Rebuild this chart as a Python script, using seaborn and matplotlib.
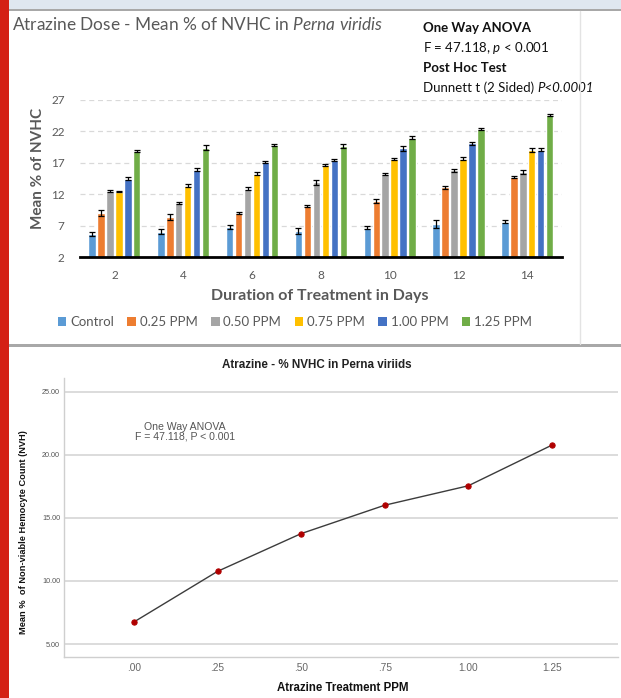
import numpy as np
import pandas as pd
import matplotlib
matplotlib.use("Agg")
import matplotlib.pyplot as plt
from matplotlib.patches import Rectangle, Patch
from matplotlib.lines import Line2D
from matplotlib.ticker import FuncFormatter
import seaborn as sns

# ---- Panel A: mean % NVHC per treatment day and atrazine dose ----
days = ["2", "4", "6", "8", "10", "12", "14"]
doses = ["Control", "0.25 PPM", "0.50 PPM", "0.75 PPM", "1.00 PPM", "1.25 PPM"]

control  = [5.7, 6.1, 6.8, 6.2, 6.7, 7.3, 7.65]
ppm_025  = [9.0, 8.4, 9.1, 10.2, 10.9, 13.1, 14.8]
ppm_050  = [12.6, 10.6, 12.9, 13.9, 15.2, 15.8, 15.6]
ppm_075  = [12.45, 13.4, 15.3, 16.7, 17.6, 17.7, 19.0]
ppm_100  = [14.5, 15.9, 17.1, 17.45, 19.3, 20.1, 19.1]
ppm_125  = [18.9, 19.4, 19.9, 19.7, 21.0, 22.4, 24.6]

sem_control = [0.30, 0.35, 0.30, 0.50, 0.25, 0.60, 0.20]
sem_025     = [0.50, 0.45, 0.15, 0.15, 0.30, 0.30, 0.20]
sem_050     = [0.15, 0.20, 0.20, 0.35, 0.15, 0.20, 0.30]
sem_075     = [0.15, 0.30, 0.25, 0.15, 0.20, 0.30, 0.30]
sem_100     = [0.20, 0.25, 0.15, 0.15, 0.40, 0.20, 0.20]
sem_125     = [0.15, 0.40, 0.15, 0.25, 0.20, 0.15, 0.20]

dose_colors = ["#5B9BD5", "#ED7D31", "#A5A5A5", "#FFC000", "#4472C4", "#70AD47"]

# ---- Panel B: overall mean % NVHC per dose ----
ppm_levels = [0.00, 0.25, 0.50, 0.75, 1.00, 1.25]
mean_nvhc = [6.75, 10.76, 13.75, 16.00, 17.54, 20.76]

series = [control, ppm_025, ppm_050, ppm_075, ppm_100, ppm_125]
sems = [sem_control, sem_025, sem_050, sem_075, sem_100, sem_125]
bars = pd.DataFrame(
    [(d, dose, v) for dose, vals in zip(doses, series) for d, v in zip(days, vals)],
    columns=["day", "dose", "value"],
)

sns.set_style("white")
plt.rcParams["font.family"] = ["Lato", "DejaVu Sans"]
plt.rcParams["mathtext.fontset"] = "custom"
plt.rcParams["mathtext.rm"] = "Lato"
plt.rcParams["mathtext.it"] = "Lato:italic"
plt.rcParams["mathtext.bf"] = "Lato:bold"

W, H = 621, 698
fig = plt.figure(figsize=(W / 100, H / 100), dpi=100, facecolor="white")


def fx(px):
    return px / W


def fy(py):
    return 1 - py / H


GREY_TXT = "#595959"

# ---------------- bar chart ----------------
ax1 = fig.add_axes([fx(80), fy(257.3), (561.7 - 80) / W, (257.3 - 100) / H])
sns.barplot(data=bars, x="day", y="value", hue="dose", order=days, hue_order=doses,
            palette=dose_colors, saturation=1, width=0.78, gap=0.17,
            errorbar=None, legend=False, ax=ax1)
for container, err in zip(ax1.containers, sems):
    for bar, e in zip(container, err):
        ax1.errorbar(bar.get_x() + bar.get_width() / 2, bar.get_height(), yerr=e,
                     fmt="none", ecolor="black", elinewidth=0.9,
                     capsize=2.2, capthick=0.9, zorder=3)

ax1.set_xlim(-0.5, 6.5)
ax1.set_ylim(2, 27)
ax1.set_yticks([2, 7, 12, 17, 22, 27])
ax1.set_axisbelow(True)
ax1.yaxis.grid(True, linestyle=(0, (4, 3)), color="#d9d9d9", linewidth=0.9)
for s in ["top", "right", "left"]:
    ax1.spines[s].set_visible(False)
ax1.spines["bottom"].set_color("black")
ax1.spines["bottom"].set_linewidth(2)
ax1.tick_params(axis="y", length=0, labelsize=8.5, labelcolor=GREY_TXT, pad=11)
ax1.tick_params(axis="x", length=0, labelsize=8.5, labelcolor=GREY_TXT, pad=9.5)
ax1.set_ylabel("Mean % of NVHC", fontsize=11, fontweight="bold", color=GREY_TXT)
ax1.yaxis.label.set_va("center")
ax1.yaxis.set_label_coords((38 - 80) / 481.7, (257.3 - 168) / 157.3)
ax1.set_xlabel("Duration of Treatment in Days", fontsize=11.5, fontweight="bold", color=GREY_TXT)
ax1.xaxis.label.set_va("center")
ax1.xaxis.set_label_coords((319.5 - 80) / 481.7, -(296 - 257.3) / 157.3)

fig.text(fx(12), fy(24), r"Atrazine Dose - Mean % of NVHC in $\it{Perna\ viridis}$",
         fontsize=12.4, color=GREY_TXT, ha="left", va="center")
fig.text(fx(423), fy(28.3), "One Way ANOVA", fontsize=9.5, fontweight="bold",
         color="#111111", ha="left", va="center")
fig.text(fx(423), fy(48.3), r"F = 47.118, $\it{p}$ < 0.001", fontsize=9.5,
         color="#111111", ha="left", va="center")
fig.text(fx(423), fy(68.3), "Post Hoc Test", fontsize=9.5, fontweight="bold",
         color="#111111", ha="left", va="center")
dunnett = fig.text(fx(423), fy(92), "Dunnett t (2 Sided) ", fontsize=9.5,
                   color="#111111", ha="left", va="baseline")
# italic p-value placed right after the regular part of the line
ax1.annotate("P<0.0001", xy=(1, 0), xycoords=dunnett, fontsize=9.5,
             fontstyle="italic", color="#111111", ha="left", va="bottom",
             annotation_clip=False)

handles = [Patch(facecolor=c, edgecolor="none") for c in dose_colors]
fig.legend(handles, doses, loc="center", bbox_to_anchor=(fx(295), fy(322)), ncol=6,
           frameon=False, fontsize=9.5, labelcolor=GREY_TXT, handlelength=0.65,
           handleheight=0.65, handletextpad=0.3, columnspacing=1.0)

# ---------------- line chart ----------------
ax2 = fig.add_axes([fx(64.3), fy(657.3), (618 - 64.3) / W, (657.3 - 378.3) / H])
sns.lineplot(x=ppm_levels, y=mean_nvhc, ax=ax2, color="#3c3c3c", linewidth=1,
             marker="o", markersize=3.8, markerfacecolor="#b00000",
             markeredgecolor="#b00000")
ax2.set_xlim(-0.2086, 1.448)
ax2.set_ylim(3.946, 26.06)
ax2.set_xticks(ppm_levels)
ax2.set_yticks([5, 10, 15, 20, 25])
ax2.xaxis.set_major_formatter(FuncFormatter(lambda v, p: f"{v:.2f}".lstrip("0") if v < 1 else f"{v:.2f}"))
ax2.yaxis.set_major_formatter(FuncFormatter(lambda v, p: f"{v:.2f}"))
ax2.set_axisbelow(True)
ax2.yaxis.grid(True, color="#d9d9d9", linewidth=1.3)
ax2.xaxis.grid(False)
for s in ["top", "right"]:
    ax2.spines[s].set_visible(False)
for s in ["left", "bottom"]:
    ax2.spines[s].set_color("#cfcfcf")
    ax2.spines[s].set_linewidth(1)
for lab in ax2.get_yticklabels():
    lab.set_family("Liberation Sans")
for lab in ax2.get_xticklabels():
    lab.set_family("Liberation Sans")
ax2.tick_params(axis="y", length=0, labelsize=5.2, labelcolor="#555555", pad=3)
ax2.tick_params(axis="x", length=0, labelsize=7.3, labelcolor="#666666", pad=4)
ax2.set_ylabel("Mean %  of Non-viable Hemocyte Count (NVH)", fontsize=6.7,
               fontweight="bold", color="#111111", family="Liberation Sans")
ax2.yaxis.label.set_va("center")
ax2.yaxis.set_label_coords((24 - 64.3) / 553.7, (657.3 - 531.7) / 279)
ax2.set_xlabel("Atrazine Treatment PPM", fontsize=8.3, fontweight="bold",
               color="#111111", family="Liberation Sans")
ax2.xaxis.label.set_va("center")
ax2.xaxis.set_label_coords((343 - 64.3) / 553.7, -(688 - 657.3) / 279)

fig.text(fx(316.7), fy(365), "Atrazine - % NVHC in Perna viriids", fontsize=8.4,
         fontweight="bold", color="#222222", family="Liberation Sans",
         ha="center", va="center")
fig.text(fx(185), fy(431.7), "One Way ANOVA\nF = 47.118, P < 0.001", fontsize=7.6,
         color="#555555", family="Liberation Sans", ha="center", va="center",
         multialignment="center", linespacing=0.95)

# ---------------- page furniture ----------------
fig.add_artist(Rectangle((0, 0), fx(9), 1, transform=fig.transFigure,
                         facecolor="#d42015", edgecolor="none"))
fig.add_artist(Rectangle((fx(9), fy(8.5)), 1, 8.5 / H, transform=fig.transFigure,
                         facecolor="#dfe7f0", edgecolor="none"))
fig.add_artist(Rectangle((fx(9), fy(10.5)), 1, 2 / H, transform=fig.transFigure,
                         facecolor="#a8a8a8", edgecolor="none"))
fig.add_artist(Rectangle((fx(9), fy(347)), 1, 2.5 / H, transform=fig.transFigure,
                         facecolor="#a8a8a8", edgecolor="none"))
fig.add_artist(Line2D([fx(580), fx(580)], [fy(10.5), fy(344.5)],
                      transform=fig.transFigure, color="#e3e3e3", linewidth=1))

fig.savefig("out.png", dpi=100, facecolor="white")
